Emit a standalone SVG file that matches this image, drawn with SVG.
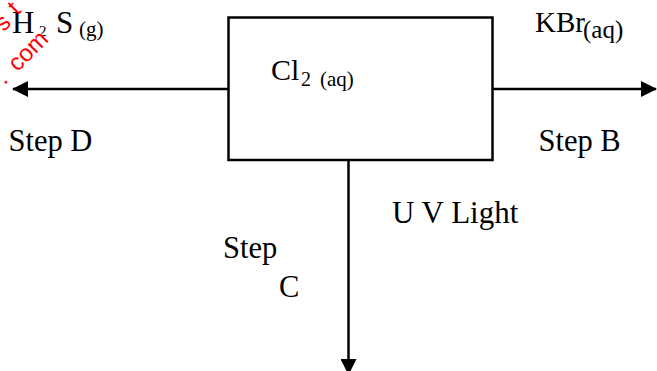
<svg xmlns="http://www.w3.org/2000/svg" width="657" height="371" viewBox="0 0 657 371">
<style>
  .ln { stroke: #000; stroke-width: 2.5; fill: none; }
  text { font-family: "Liberation Serif", serif; fill: #000; }
  text.wm { font-family: "Liberation Sans", sans-serif; fill: #ff0000; font-size: 24px; }
</style>
<defs>
  <marker id="ah" markerUnits="userSpaceOnUse" markerWidth="16" markerHeight="16" viewBox="0 0 16 16" refX="15" refY="8" orient="auto">
    <path d="M0,0 L16,8 L0,16 Z" fill="#000"/>
  </marker>
</defs>
<rect width="657" height="371" fill="#fff"/>
<g id="connectors">
  <line class="ln" x1="228.5" y1="89" x2="13" y2="89" marker-end="url(#ah)"/>
  <line class="ln" x1="492.7" y1="89" x2="656" y2="89" marker-end="url(#ah)"/>
  <line class="ln" x1="348.5" y1="160" x2="348.5" y2="374" marker-end="url(#ah)"/>
</g>
<g id="node-cl2">
  <rect class="ln" x="228.5" y="17.5" width="264" height="142.5"/>
  <text x="271" y="80" font-size="30" font-family="Liberation Serif">Cl</text>
  <text x="301" y="86" font-size="20" font-family="Liberation Serif">2</text>
  <text x="320" y="86" font-size="21" font-family="Liberation Serif">(aq)</text>
</g>
<g id="node-h2s">
  <text x="12" y="33" font-size="31" font-family="Liberation Serif">H</text>
  <text x="39" y="36" font-size="15" font-family="Liberation Serif">2</text>
  <text x="56" y="33" font-size="31" font-family="Liberation Serif">S</text>
  <text x="79" y="36" font-size="21" font-family="Liberation Serif">(g)</text>
</g>
<g id="node-kbr">
  <text x="535" y="32" font-size="29" font-family="Liberation Serif">KBr</text>
  <text x="583" y="38" font-size="25" font-family="Liberation Serif">(aq)</text>
</g>
<g id="labels">
  <text x="8.5" y="151" font-size="30.5" font-family="Liberation Serif">Step D</text>
  <text x="538.5" y="151" font-size="30.5" font-family="Liberation Serif">Step B</text>
  <text x="392" y="223" font-size="31" font-family="Liberation Serif">U V Light</text>
  <text x="223" y="258" font-size="30.5" font-family="Liberation Serif">Step</text>
  <text x="279" y="297" font-size="30.5" font-family="Liberation Serif">C</text>
</g>
<g id="watermark">
  <text class="wm" font-family="Liberation Sans" font-size="24" transform="translate(8.8,24.5) rotate(-45)"><tspan x="-9" y="2">s</tspan><tspan x="12" y="0">t</tspan></text>
  <text class="wm" font-family="Liberation Sans" font-size="24" transform="translate(4.5,85.5) rotate(-45)"><tspan x="0" y="0">.</tspan><tspan x="18.5" y="0">com</tspan></text>
</g>
</svg>
